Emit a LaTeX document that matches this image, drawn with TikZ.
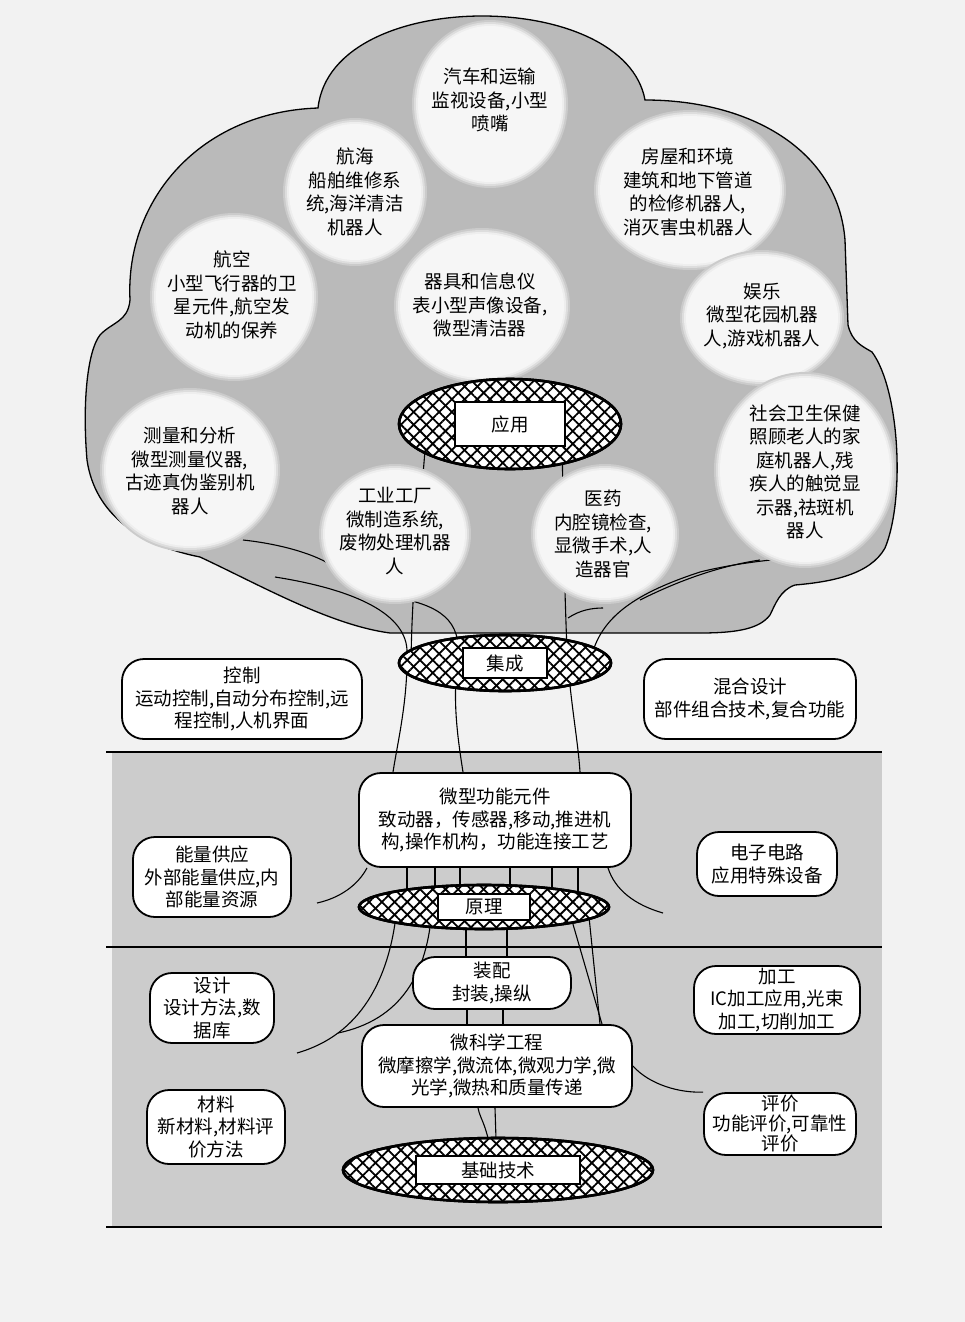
\documentclass[tikz,border=0pt]{standalone}
\usepackage{fontspec}
\newfontfamily\cjk{Noto Sans CJK SC}
\usetikzlibrary{patterns.meta,shapes.geometric}
\definecolor{paper}{gray}{0.95}
\definecolor{crown}{gray}{0.73}
\definecolor{band}{gray}{0.80}
\definecolor{bubble}{gray}{0.965}
\pgfdeclarelayer{bg}\pgfdeclarelayer{lines}\pgfdeclarelayer{bub}
\pgfsetlayers{bg,lines,bub,main}
\begin{document}
\begin{tikzpicture}[x=1pt,y=-1pt,
  txt/.style={font=\cjk\fontsize{18.5}{23.5}\selectfont, align=center, inner sep=0pt},
  rbox/.style={font=\cjk\fontsize{18.5}{22.5}\selectfont, align=center, draw, line width=1.8pt, fill=white, rounded corners=22pt, inner sep=2pt},
  hatch/.style={ellipse, draw, line width=2.6pt, fill=white, inner sep=0pt,
    postaction={pattern={Lines[angle=45,distance=9pt,line width=1.8pt]}},
    postaction={pattern={Lines[angle=-45,distance=9pt,line width=1.8pt]}},
    postaction={draw, line width=2.6pt}},
  tag/.style={font=\cjk\fontsize{18.5}{22}\selectfont, draw, line width=2pt, fill=white, inner sep=0pt},
  branch/.style={line width=1.1pt},
]
\useasboundingbox (0,0) rectangle (965,1322);

% ---------- nodes (main layer) ----------
% bubble texts
\node[txt] (b1) at (490,100) {汽车和运输\\监视设备,小型\\喷嘴};
\node[txt] (b2) at (355,192) {航海\\船舶维修系\\统,海洋清洁\\机器人};
\node[txt] (b3) at (688,192) {房屋和环境\\建筑和地下管道\\的检修机器人,\\消灭害虫机器人};
\node[txt] (b4) at (232,295) {航空\\小型飞行器的卫\\星元件,航空发\\动机的保养};
\node[txt] (b5) at (480,305) {器具和信息仪\\表小型声像设备,\\微型清洁器};
\node[txt] (b6) at (762,316) {娱乐\\微型花园机器\\人,游戏机器人};
\node[txt] (b7) at (190,471) {测量和分析\\微型测量仪器,\\古迹真伪鉴别机\\器人};
\node[txt] (b8) at (395,531) {工业工厂\\微制造系统,\\废物处理机器\\人};
\node[txt] (b9) at (603,534) {医药\\内腔镜检查,\\显微手术,人\\造器官};
\node[txt] (b10) at (805,472) {社会卫生保健\\照顾老人的家\\庭机器人,残\\疾人的触觉显\\示器,祛斑机\\器人};

% hatched ellipses with tags
\node[hatch, minimum width=222pt, minimum height=90pt] (app) at (510,424) {};
\node[tag, minimum width=110pt, minimum height=44pt] (appt) at (app) {应用};
\node[hatch, minimum width=212pt, minimum height=56pt] (integ) at (505,663) {};
\node[tag, minimum width=84pt, minimum height=30pt] (integt) at (integ) {集成};
\node[hatch, minimum width=250pt, minimum height=44pt] (yl) at (484,907) {};
\node[tag, minimum width=92pt, minimum height=26pt] (ylt) at (yl) {原理};
\node[hatch, minimum width=310pt, minimum height=64pt] (jc) at (498,1170) {};
\node[tag, minimum width=164pt, minimum height=28pt] (jct) at (jc) {基础技术};

% rounded boxes
\node[rbox, minimum width=240pt, minimum height=80pt] (ctrl) at (242,699) {控制\\运动控制,自动分布控制,远\\程控制,人机界面};
\node[rbox, minimum width=212pt, minimum height=80pt] (hyb) at (750,699) {混合设计\\部件组合技术,复合功能};
\node[rbox, minimum width=272pt, minimum height=94pt] (wg) at (495,820) {微型功能元件\\致动器，传感器,移动,推进机\\构,操作机构，功能连接工艺};
\node[rbox, minimum width=158pt, minimum height=80pt] (en) at (212,877) {能量供应\\外部能量供应,内\\部能量资源};
\node[rbox, minimum width=140pt, minimum height=64pt] (ec) at (767,864) {电子电路\\应用特殊设备};
\node[rbox, minimum width=158pt, minimum height=52pt] (asm) at (492,983) {装配\\封装,操纵};
\node[rbox, minimum width=124pt, minimum height=70pt] (des) at (212,1008) {设计\\设计方法,数\\据库};
\node[rbox, minimum width=166pt, minimum height=68pt] (proc) at (777,1000) {加工\\IC加工应用,光束\\加工,切削加工};
\node[rbox, minimum width=270pt, minimum height=82pt] (msci) at (497,1066) {微科学工程\\微摩擦学,微流体,微观力学,微\\光学,微热和质量传递};
\node[rbox, minimum width=138pt, minimum height=74pt] (mat) at (216,1127) {材料\\新材料,材料评\\价方法};
\node[rbox, minimum width=152pt, minimum height=62pt, font=\cjk\fontsize{18.5}{20}\selectfont] (ev) at (780,1124) {评价\\功能评价,可靠性\\评价};

% ---------- background ----------
\begin{pgfonlayer}{bg}
\fill[paper] (0,0) rectangle (965,1322);
\fill[band] (112,752) rectangle (882,1227);
\draw[line width=1.2pt] (106,752) -- (882,752);
\draw[line width=1.2pt] (106,947) -- (882,947);
\draw[line width=1.2pt] (106,1227) -- (882,1227);
\filldraw[fill=crown, line width=1.3pt]
  (318,108) .. controls (325,45) and (405,16) .. (482,16)
  .. controls (560,16) and (635,45) .. (645,100)
  .. controls (750,100) and (838,150) .. (845,240)
  -- (848,325)
  .. controls (852,342) and (862,346) .. (872,352)
  .. controls (900,390) and (905,500) .. (885,548)
  .. controls (870,575) and (830,582) .. (795,585)
  .. controls (780,590) and (775,605) .. (770,615)
  .. controls (760,628) and (740,633) .. (700,633)
  -- (390,633)
  .. controls (330,625) and (260,585) .. (200,557)
  .. controls (140,545) and (95,515) .. (87,460)
  .. controls (82,400) and (88,350) .. (100,335)
  .. controls (112,322) and (128,322) .. (130,300)
  .. controls (125,200) and (200,112) .. (318,108) -- cycle;
\end{pgfonlayer}

% ---------- bubbles ----------
\begin{pgfonlayer}{bub}
\foreach \cx/\cy/\rx/\ry in {490/104/72/78, 355/192/66/68, 690/190/90/74, 234/297/78/78,
  482/306/82/72, 762/318/76/62, 190/470/84/76, 395/534/70/64, 605/534/68/64, 805/470/85/92}{
  \fill[crown!75!white] (\cx,\cy) ellipse [x radius=\rx pt+6pt, y radius=\ry pt+6pt];
  \fill[crown!50!white] (\cx,\cy) ellipse [x radius=\rx pt+4pt, y radius=\ry pt+4pt];
  \fill[crown!25!white] (\cx,\cy) ellipse [x radius=\rx pt+2pt, y radius=\ry pt+2pt];
  \fill[bubble] (\cx,\cy) ellipse [x radius=\rx pt, y radius=\ry pt];
}
\end{pgfonlayer}

% ---------- branches / roots ----------
\begin{pgfonlayer}{lines}
% crown branches
\draw[branch] (243,540) .. controls (290,545) and (335,560) .. (343,577);
\draw[branch] (275,577) .. controls (345,588) and (405,610) .. (407,650)
  .. controls (408,700) and (398,740) .. (393,0 |- wg.north);
\draw[branch] (393,597) .. controls (440,605) and (462,620) .. (458,660)
  .. controls (452,700) and (458,740) .. (463,0 |- wg.north);
\draw[branch] (427,0 |- app.center) .. controls (420,520) and (412,580) .. (411,0 |- integ.center);
\draw[branch] (562,0 |- app.center) .. controls (563,530) and (565,600) .. (567,650)
  .. controls (570,700) and (578,740) .. (580,0 |- wg.north);
\draw[branch] (568,618) .. controls (580,610) and (592,608) .. (603,608);
\draw[branch] (590,0 |- integ.center) .. controls (598,620) and (630,595) .. (700,572)
  .. controls (740,562) and (790,557) .. (823,557);
\draw[branch] (640,600) .. controls (680,580) and (720,566) .. (760,560);
% functional elements -> principle
\foreach \xx in {407,435,460,510,552,578}{
  \draw[branch] (\xx,0 |- wg.south) -- (\xx,0 |- yl.center);
}
\draw[branch] (367,0 |- wg.south) .. controls (358,885) and (340,898) .. (317,903);
\draw[branch] (608,0 |- wg.south) .. controls (615,890) and (635,905) .. (663,913);
% principle -> below
\draw[branch] (397,0 |- yl.center) .. controls (390,980) and (360,1035) .. (297,1053);
\draw[branch] (432,0 |- yl.center) .. controls (428,975) and (400,1020) .. (338,1033);
\draw[branch] (466,0 |- yl.center) -- (466,0 |- asm.north);
\draw[branch] (507,0 |- yl.center) -- (507,0 |- asm.north);
\draw[branch] (568,0 |- yl.center) -- (602,0 |- msci.north);
\draw[branch] (588,0 |- yl.center) -- (600,0 |- msci.north);
\draw[branch] (467,0 |- asm.south) -- (467,0 |- msci.north);
\draw[branch] (503,0 |- asm.south) -- (503,0 |- msci.north);
\draw[branch] (msci.east) .. controls (650,1085) and (680,1093) .. (ev.north west);
\draw[branch] (478,0 |- msci.south) .. controls (480,1120) and (490,1128) .. (492,0 |- jc.center);
\draw[branch] (495,0 |- msci.south) -- (497,0 |- jc.center);
\end{pgfonlayer}
\end{tikzpicture}
\end{document}
